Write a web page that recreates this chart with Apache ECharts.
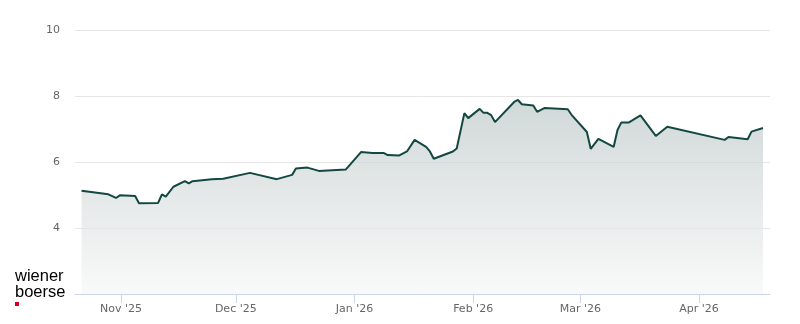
<!DOCTYPE html>
<html>
<head>
<meta charset="utf-8">
<script src="https://cdn.jsdelivr.net/npm/echarts@6/dist/echarts.min.js"></script>
<style>
html,body{margin:0;padding:0;background:#fff;}
#chart{width:800px;height:324px;}
</style>
</head>
<body>
<div id="chart"></div>
<script>
// ---- data ----
const dates = [
  '2025-10-21','2025-10-28','2025-10-30','2025-10-31','2025-11-04','2025-11-05','2025-11-10','2025-11-11',
  '2025-11-12','2025-11-14','2025-11-17','2025-11-18','2025-11-19','2025-11-24','2025-11-27','2025-12-04',
  '2025-12-11','2025-12-15','2025-12-16','2025-12-19','2025-12-22','2025-12-29','2026-01-02','2026-01-05',
  '2026-01-08','2026-01-09','2026-01-12','2026-01-14','2026-01-16','2026-01-19','2026-01-20','2026-01-21',
  '2026-01-26','2026-01-27','2026-01-29','2026-01-30','2026-02-02','2026-02-03','2026-02-04','2026-02-05',
  '2026-02-06','2026-02-11','2026-02-12','2026-02-13','2026-02-16','2026-02-17','2026-02-19','2026-02-25',
  '2026-02-26','2026-03-02','2026-03-03','2026-03-05','2026-03-09','2026-03-10','2026-03-11','2026-03-13',
  '2026-03-16','2026-03-20','2026-03-23','2026-04-07','2026-04-08','2026-04-13','2026-04-14','2026-04-17'
];
const prices = [
  5.13,5.02,4.91,4.99,4.97,4.75,4.76,5.02,
  4.95,5.25,5.42,5.35,5.42,5.48,5.49,5.67,
  5.48,5.61,5.80,5.83,5.73,5.77,6.30,6.27,
  6.27,6.21,6.20,6.32,6.67,6.46,6.32,6.10,
  6.32,6.41,7.48,7.33,7.61,7.49,7.49,7.42,
  7.21,7.82,7.88,7.75,7.71,7.52,7.64,7.60,
  7.43,6.91,6.40,6.70,6.46,6.97,7.20,7.20,
  7.41,6.79,7.07,6.67,6.76,6.69,6.92,7.03
];
const monthNames = ['Jan','Feb','Mar','Apr','May','Jun','Jul','Aug','Sep','Oct','Nov','Dec'];
const yTicks = [2,4,6,8,10];
const axisStart = '2025-10-20T00:00:00';
const axisEnd = '2026-04-19T13:00:00';
const closeTime = 'T17:00:00';

function ts(s){ return new Date(s.length===10 ? s+'T00:00:00' : s).getTime(); }

const seriesData = dates.map((d,i)=>[ts(d+closeTime), prices[i]]);

const chart = echarts.init(document.getElementById('chart'), null, {renderer:'canvas'});
const labelFont = 'DejaVu Sans';
chart.setOption({
  animation:false,
  backgroundColor:'#ffffff',
  grid:{left:75,right:30,top:30,bottom:30,containLabel:false},
  xAxis:{
    type:'time',
    min:ts(axisStart),
    max:ts(axisEnd),
    splitNumber:6,
    axisLine:{show:true,lineStyle:{color:'#ccd6eb',width:1}},
    axisTick:{show:true,length:9,lineStyle:{color:'#ccd6eb'}},
    axisLabel:{
      showMinLabel:false,showMaxLabel:false,
      color:'#666666',fontSize:11,fontFamily:labelFont,margin:10,
      formatter:function(v){const d=new Date(v);if(d.getDate()!==1)return '';return monthNames[d.getMonth()]+" '"+String(d.getFullYear()).slice(2);}
    },
    splitLine:{show:false}
  },
  yAxis:{
    type:'value',
    min:yTicks[0],max:yTicks[yTicks.length-1],interval:2,
    axisLine:{show:false},axisTick:{show:false},
    axisLabel:{color:'#666666',fontSize:11,fontFamily:labelFont,margin:15,showMinLabel:false},
    splitLine:{show:true,lineStyle:{color:'#e6e6e6',width:1}}
  },
  series:[{
    type:'line',
    data:seriesData,
    symbol:'none',
    smooth:false,
    lineStyle:{color:'#134842',width:2},
    itemStyle:{color:'#134842'},
    areaStyle:{
      color:new echarts.graphic.LinearGradient(0,0,0,1,[
        {offset:0,color:'#bdc8c7'},
        {offset:1,color:'#f6f7f7'}
      ])
    }
  }],
  graphic:[
    {type:'text',left:15,top:268,style:{text:'wiener\nboerse',font:'16.5px "Liberation Sans"',fill:'#000000',lineHeight:16}},
    {type:'rect',left:15,top:302,shape:{width:4,height:4},style:{fill:'#d3001c'}}
  ]
});
</script>
</body>
</html>
